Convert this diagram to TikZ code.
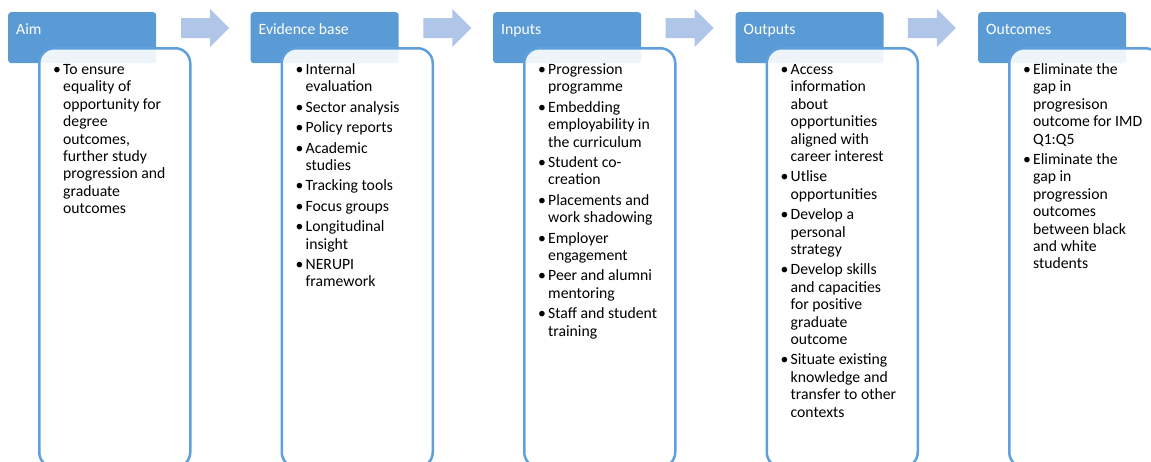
\documentclass[tikz,border=0pt]{standalone}
\usepackage{fontspec}
\setmainfont{Carlito}
\definecolor{hdrblue}{HTML}{5B9BD5}
\definecolor{bodyblue}{HTML}{5FA0DC}
\definecolor{arrblue}{HTML}{AFC6E8}
\newcommand\bmk{\makebox[10pt][l]{\textbullet}}
\newcommand\blist[1]{\begin{tabular}[t]{@{}l@{}l@{}}#1\end{tabular}}
\begin{document}
\begin{tikzpicture}[x=1pt,y=-1pt,
  hdr/.style={fill=hdrblue, rounded corners=3pt, inner sep=0pt, minimum width=148pt, minimum height=51pt, anchor=north west},
  hdrtext/.style={text=white, anchor=base west, inner sep=0pt, font=\fontsize{15.7}{17.4}\selectfont},
  bodybox/.style={draw=bodyblue, line width=2.5pt, fill=white, fill opacity=0.9, rounded corners=15pt, inner sep=0pt, minimum width=151pt, minimum height=419pt, anchor=north west},
  bodytext/.style={anchor=base west, inner sep=0pt, font=\fontsize{15.7}{17.4}\selectfont},
  arr/.style={fill=arrblue}]
\useasboundingbox (0,0) rectangle (1151,461);
\clip (0,0) rectangle (1151,461);

% arrows between headers
\foreach \ax in {181,423.3,665.6,907.9}{
  \fill[arr] (\ax,18) -- (\ax+29,18) -- (\ax+29,9) -- (\ax+48,28) -- (\ax+29,47) -- (\ax+29,38) -- (\ax,38) -- cycle;
}

% Column 1: Aim
\node[hdr] (h1) at (8,12) {};
\node[bodybox] (b1) at (38,47) {};
\node[hdrtext] (h1t) at (16,34) {Aim};
\node[bodytext] (t1) at (53,74.5) {\blist{
\bmk & To ensure\\
 & equality of\\
 & opportunity for\\
 & degree\\
 & outcomes,\\
 & further study\\
 & progression and\\
 & graduate\\
 & outcomes}};

% Column 2: Evidence base
\node[hdr] (h2) at (250.5,12) {};
\node[bodybox] (b2) at (280.5,47) {};
\node[hdrtext] (h2t) at (258.5,34) {Evidence base};
\node[bodytext] (t2) at (295.5,74.5) {\blist{
\bmk & Internal\\
 & evaluation\\[3pt]
\bmk & Sector analysis\\[3pt]
\bmk & Policy reports\\[3pt]
\bmk & Academic\\
 & studies\\[3pt]
\bmk & Tracking tools\\[3pt]
\bmk & Focus groups\\[3pt]
\bmk & Longitudinal\\
 & insight\\[3pt]
\bmk & NERUPI\\
 & framework}};

% Column 3: Inputs
\node[hdr] (h3) at (493,12) {};
\node[bodybox] (b3) at (523,47) {};
\node[hdrtext] (h3t) at (501,34) {Inputs};
\node[bodytext] (t3) at (538,74.5) {\blist{
\bmk & Progression\\
 & programme\\[3pt]
\bmk & Embedding\\
 & employability in\\
 & the curriculum\\[3pt]
\bmk & Student co-\\
 & creation\\[3pt]
\bmk & Placements and\\
 & work shadowing\\[3pt]
\bmk & Employer\\
 & engagement\\[3pt]
\bmk & Peer and alumni\\
 & mentoring\\[3pt]
\bmk & Staff and student\\
 & training}};

% Column 4: Outputs
\node[hdr] (h4) at (735.5,12) {};
\node[bodybox] (b4) at (765.5,47) {};
\node[hdrtext] (h4t) at (743.5,34) {Outputs};
\node[bodytext] (t4) at (780.5,74.5) {\blist{
\bmk & Access\\
 & information\\
 & about\\
 & opportunities\\
 & aligned with\\
 & career interest\\[3pt]
\bmk & Utlise\\
 & opportunities\\[3pt]
\bmk & Develop a\\
 & personal\\
 & strategy\\[3pt]
\bmk & Develop skills\\
 & and capacities\\
 & for positive\\
 & graduate\\
 & outcome\\[3pt]
\bmk & Situate existing\\
 & knowledge and\\
 & transfer to other\\
 & contexts}};

% Column 5: Outcomes
\node[hdr] (h5) at (978,12) {};
\node[bodybox] (b5) at (1008,47) {};
\node[hdrtext] (h5t) at (986,34) {Outcomes};
\node[bodytext] (t5) at (1023,74.5) {\blist{
\bmk & Eliminate the\\
 & gap in\\
 & progresison\\
 & outcome for IMD\\
 & Q1:Q5\\[3pt]
\bmk & Eliminate the\\
 & gap in\\
 & progression\\
 & outcomes\\
 & between black\\
 & and white\\
 & students}};
\end{tikzpicture}
\end{document}
